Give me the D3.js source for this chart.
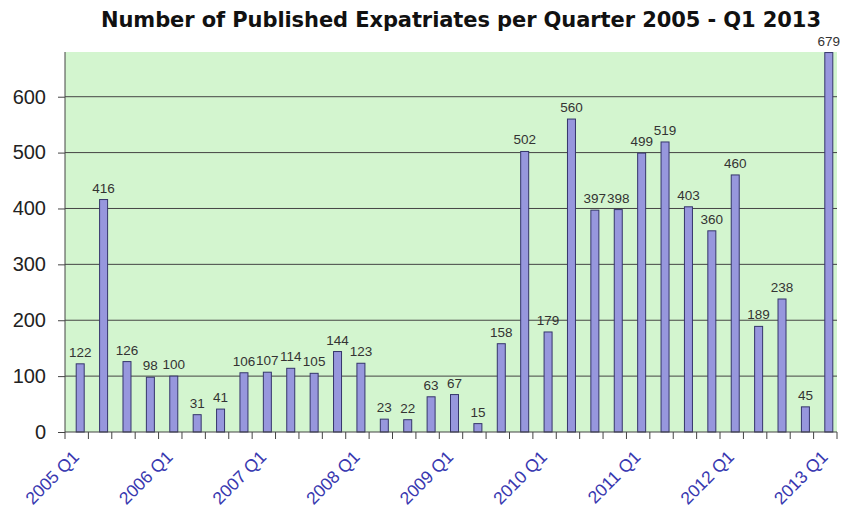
<!doctype html>
<html>
  <head>
    <meta charset="utf-8">
    <title>Expatriates</title>
    <script src="https://d3js.org/d3.v7.min.js"></script>
    <style>
      body { margin: 0; background: #fff; }
      text { font-family: "Liberation Sans", Arial, sans-serif; }
    </style>
  </head>
  <body>
    <script>
      const years = ['2005', '2006', '2007', '2008', '2009', '2010', '2011', '2012', '2013'];
      const quarters = years.flatMap(y => ['Q1', 'Q2', 'Q3', 'Q4'].map(q => `${y} ${q}`)).slice(0, 33);
      const values = [122, 416, 126, 98, 100, 31, 41, 106, 107, 114, 105, 144, 123, 23, 22,
                      63, 67, 15, 158, 502, 179, 560, 397, 398, 499, 519, 403, 360, 460, 189,
                      238, 45, 679];
      const yTicks = [0, 100, 200, 300, 400, 500, 600];

      const data = quarters.map((q, i) => ({ q, v: values[i] }));

      const width = 843, height = 515;
      const margin = { top: 52, right: 6, bottom: 83, left: 65 };
      const plotW = width - margin.left - margin.right;
      const plotH = height - margin.top - margin.bottom;

      const svg = d3.select('body').append('svg')
          .attr('width', width)
          .attr('height', height);

      // title
      svg.append('text')
          .attr('x', 461)
          .attr('y', 27)
          .attr('text-anchor', 'middle')
          .attr('font-size', 21)
          .attr('font-weight', 'bold')
          .attr('fill', '#111')
          .style('font-family', '"DejaVu Sans", sans-serif')
          .attr('textLength', 720)
          .attr('lengthAdjust', 'spacing')
          .text('Number of Published Expatriates per Quarter 2005 - Q1 2013');

      const x = d3.scaleBand()
          .domain(quarters)
          .range([0, plotW]);

      const y = d3.scaleLinear()
          .domain([0, 680])
          .range([plotH, 0]);

      const g = svg.append('g')
          .attr('transform', `translate(${margin.left},${margin.top})`);

      // plot background
      g.append('rect')
          .attr('width', plotW)
          .attr('height', plotH)
          .attr('fill', '#d3f5cf');

      // gridlines
      g.append('g')
          .selectAll('line')
          .data(yTicks.filter(d => d > 0))
          .join('line')
            .attr('x1', 0)
            .attr('x2', plotW)
            .attr('y1', d => y(d))
            .attr('y2', d => y(d))
            .attr('stroke', '#444')
            .attr('stroke-width', 1);

      // bars
      const barW = 8;
      const shift = 3.5;
      g.append('g')
          .selectAll('rect')
          .data(data)
          .join('rect')
            .attr('x', d => x(d.q) + x.bandwidth() / 2 - barW / 2 + shift)
            .attr('y', d => y(d.v))
            .attr('width', barW)
            .attr('height', d => plotH - y(d.v))
            .attr('fill', '#9797dd')
            .attr('stroke', '#35356b')
            .attr('stroke-width', 1);

      // value labels
      g.append('g')
          .selectAll('text')
          .data(data)
          .join('text')
            .attr('x', d => x(d.q) + x.bandwidth() / 2 + shift)
            .attr('y', d => y(d.v) - 7)
            .attr('text-anchor', 'middle')
            .attr('font-size', 13.5)
            .attr('fill', '#333')
            .text(d => d.v);

      // y axis
      const yAxis = g.append('g')
          .call(d3.axisLeft(y).tickValues(yTicks).tickSize(7).tickPadding(12));
      yAxis.select('.domain').attr('stroke', '#444').attr('d', `M0,0V${plotH}`);
      yAxis.selectAll('.tick line').attr('stroke', '#444');
      yAxis.selectAll('text').attr('font-size', 20).attr('fill', '#222');

      // x axis
      const xAxis = g.append('g')
          .attr('transform', `translate(0,${plotH})`);
      xAxis.append('line')
          .attr('x1', 0).attr('x2', plotW)
          .attr('stroke', '#444');
      xAxis.selectAll('line.tk')
          .data(quarters.concat(['end']))
          .join('line')
            .attr('class', 'tk')
            .attr('x1', (d, i) => i * x.step())
            .attr('x2', (d, i) => i * x.step())
            .attr('y1', 0)
            .attr('y2', 7)
            .attr('stroke', '#444');
      xAxis.selectAll('text')
          .data(data.filter((d, i) => i % 4 === 0))
          .join('text')
            .attr('transform', d => `translate(${x(d.q) + x.bandwidth() / 2 + shift},${26}) rotate(-45)`)
            .attr('text-anchor', 'end')
            .attr('font-size', 17.5)
            .attr('fill', '#3838b0')
            .text(d => d.q);
    </script>
  </body>
</html>
